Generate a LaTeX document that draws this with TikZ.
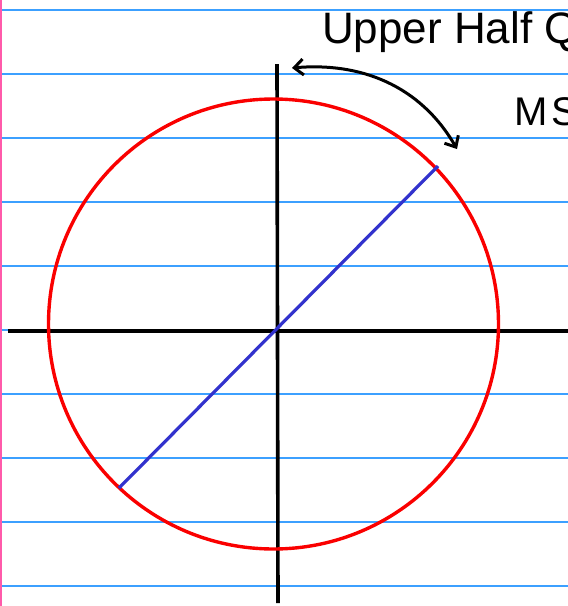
\documentclass[tikz,border=0pt]{standalone}
\usepackage{fontspec}
\setmainfont{Liberation Sans}
\usetikzlibrary{arrows.meta}
\definecolor{paperline}{RGB}{60,160,255}
\definecolor{marginpink}{RGB}{255,90,170}
\definecolor{circred}{RGB}{250,0,0}
\definecolor{diagblue}{RGB}{50,50,205}
\tikzset{
  ruled/.style={paperline, line width=1.6pt},
  axisline/.style={black, line width=3.6pt},
  handtext/.style={inner sep=0pt, font=\fontsize{44}{44}\selectfont},
}
\begin{document}
\begin{tikzpicture}[x=1pt,y=-1pt]
\useasboundingbox (0,0) rectangle (568,606);
\clip (0,0) rectangle (568,606);
\fill[white] (0,0) rectangle (568,606);
% ruled paper lines
\foreach \yy in {10,74,138,202,266,330,394,458,522,586}
  \draw[ruled] (2,\yy) -- (568,\yy);
% margin line
\draw[marginpink, line width=2.5pt] (1,0) -- (1,606);
% axes
\coordinate (O) at (277,330);
\draw[axisline] (8,331) -- (568,331);
\draw[axisline] (277,64) -- (278,603);
% circle
\draw[circred, line width=3.4pt] (273.5,324) circle (225);
% diagonal
\coordinate (P) at (438,166);
\coordinate (Q) at (119,488);
\draw[diagblue, line width=3.2pt] (Q) -- (P);
% curved double arrow
\coordinate (A) at (292,68);
\coordinate (B) at (457,149);
\draw[black, line width=3pt, line cap=round,
      {Straight Barb[length=9pt,width=16pt]}-{Straight Barb[length=9pt,width=16pt]}]
  (A) .. controls (360,62) and (420,85) .. (B);
% texts
\node[handtext, anchor=base west] (t1) at (322,43) {Upper Half Q};
\node[handtext, anchor=base west, font=\fontsize{40}{40}\selectfont] (t2) at (514,125) {M\hspace{4pt}S};
\end{tikzpicture}
\end{document}
